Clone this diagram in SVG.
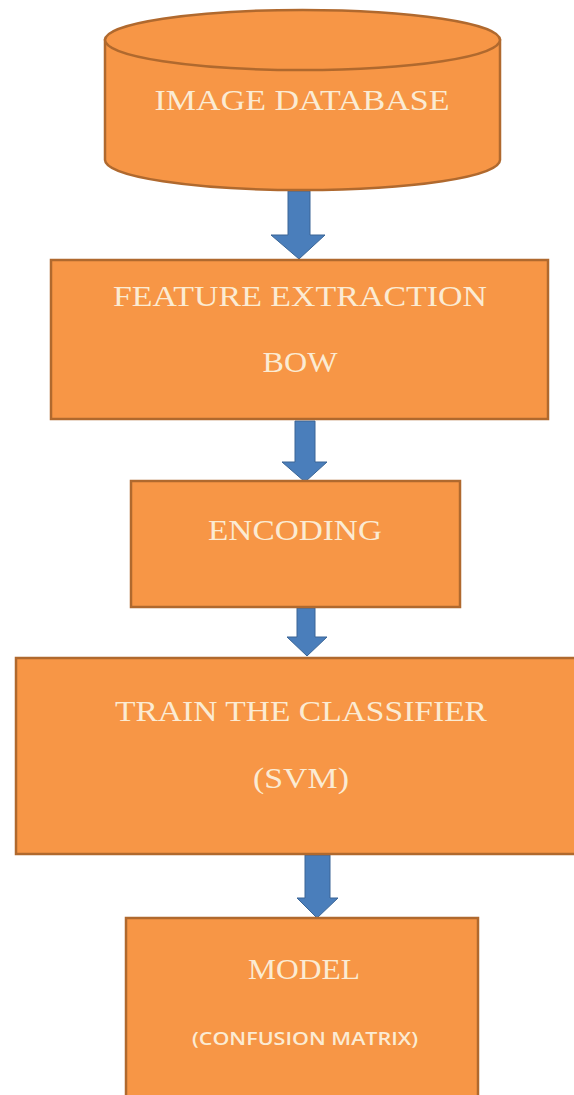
<svg xmlns="http://www.w3.org/2000/svg" width="574" height="1095" viewBox="0 0 574 1095">
  <style>
    .box { fill: #F79646; stroke: #B0692E; stroke-width: 2.5; }
    .lbl { font-family: "Liberation Serif", "Times New Roman", serif; fill: #FBEBD3; text-anchor: middle; }
    .sub { font-family: "Open Sans", "Liberation Sans", sans-serif; font-weight: 600; fill: #FBEBD3; text-anchor: middle; }
    .arrow { fill: #4A7EBB; stroke: #3A6596; stroke-width: 1; }
  </style>
  <rect width="574" height="1095" fill="#FFFFFF"/>

  <!-- Connectors: block arrows between stages -->
  <g id="connectors">
    <path class="arrow" d="M288,191 L310,191 L310,235 L325,235 L299,259 L271,235 L288,235 Z"/>
    <path class="arrow" d="M295,421 L315,421 L315,462 L327,462 L305,482 L282,462 L295,462 Z"/>
    <path class="arrow" d="M297,608 L315,608 L315,637 L327,637 L307,656 L287,637 L297,637 Z"/>
    <path class="arrow" d="M305,855 L330,855 L330,898 L338,898 L317,918 L297,898 L305,898 Z"/>
  </g>

  <!-- Stage 1: image database (cylinder) -->
  <g id="image-database">
    <path class="box" d="M105,40 L105,160 A197.5,30 0 0 0 500,160 L500,40 Z"/>
    <ellipse class="box" cx="302.5" cy="40" rx="197.5" ry="30"/>
    <text class="lbl" x="302" y="110" font-size="30" textLength="295" lengthAdjust="spacingAndGlyphs">IMAGE DATABASE</text>
  </g>

  <!-- Stage 2: feature extraction -->
  <g id="feature-extraction">
    <rect class="box" x="51" y="260" width="497" height="159"/>
    <text class="lbl" x="300" y="306" font-size="30" textLength="374" lengthAdjust="spacingAndGlyphs">FEATURE EXTRACTION</text>
    <text class="lbl" x="300" y="372" font-size="30" textLength="75" lengthAdjust="spacingAndGlyphs">BOW</text>
  </g>

  <!-- Stage 3: encoding -->
  <g id="encoding">
    <rect class="box" x="131" y="481" width="329" height="126"/>
    <text class="lbl" x="295" y="540" font-size="30" textLength="174" lengthAdjust="spacingAndGlyphs">ENCODING</text>
  </g>

  <!-- Stage 4: classifier training -->
  <g id="train-classifier">
    <rect class="box" x="16" y="658" width="562" height="196"/>
    <text class="lbl" x="301" y="721" font-size="30" textLength="372" lengthAdjust="spacingAndGlyphs">TRAIN THE CLASSIFIER</text>
    <text class="lbl" x="301" y="788" font-size="30" textLength="96" lengthAdjust="spacingAndGlyphs">(SVM)</text>
  </g>

  <!-- Stage 5: model output -->
  <g id="model">
    <rect class="box" x="126" y="918" width="352" height="190"/>
    <text class="lbl" x="304" y="979" font-size="30" textLength="112" lengthAdjust="spacingAndGlyphs">MODEL</text>
    <text class="sub" x="305" y="1045" font-size="18" textLength="226" lengthAdjust="spacingAndGlyphs">(CONFUSION MATRIX)</text>
  </g>
</svg>
